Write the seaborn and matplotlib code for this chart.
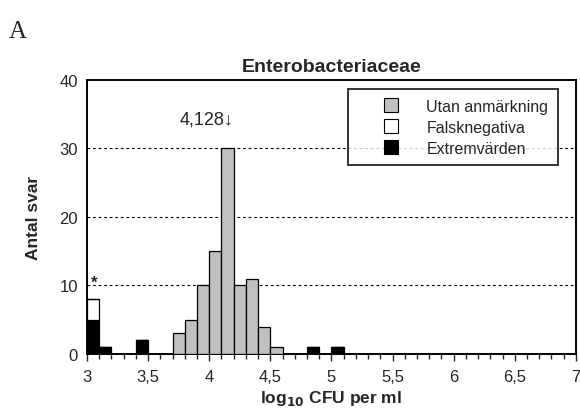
import numpy as np
import pandas as pd
import matplotlib
matplotlib.use("Agg")
import matplotlib.pyplot as plt
from matplotlib.lines import Line2D
from matplotlib.ticker import MultipleLocator
import seaborn as sns

# ---- data ----
title = "Enterobacteriaceae"
categories = ["Utan anmärkning", "Falsknegativa", "Extremvärden"]
colors = ["#c0c0c0", "#ffffff", "#000000"]

gray_bins = [3.7, 3.8, 3.9, 4.0, 4.1, 4.2, 4.3, 4.4, 4.5]
gray_counts = [3, 5, 10, 15, 30, 10, 11, 4, 1]
falseneg_bins = [3.0]
falseneg_counts = [3]
extreme_bins = [3.0, 3.1, 3.4, 4.8, 5.0]
extreme_counts = [5, 1, 2, 1, 1]

xticks = [3, 3.5, 4, 4.5, 5, 5.5, 6, 6.5, 7]
xticklabels = ["3", "3,5", "4", "4,5", "5", "5,5", "6", "6,5", "7"]
yticks = [0, 10, 20, 30, 40]
median_label = "4,128\u2193"

sns.set_style("white")
plt.rcParams['font.family'] = ['Liberation Sans', 'DejaVu Sans']

rows = []
for b, c in zip(gray_bins, gray_counts):
    rows.append((b + 0.05, float(c), categories[0]))
for b, c in zip(falseneg_bins, falseneg_counts):
    rows.append((b + 0.05, float(c), categories[1]))
for b, c in zip(extreme_bins, extreme_counts):
    rows.append((b + 0.05, float(c), categories[2]))
df = pd.DataFrame(rows, columns=["x", "n", "cat"])

fig = plt.figure(figsize=(5.8, 4.14), dpi=100)
ax = fig.add_axes([0.15, 0.1425, 0.843, 0.6626])

sns.histplot(data=df, x="x", weights="n", hue="cat",
             hue_order=categories, palette=colors,
             binwidth=0.1, binrange=(3, 7),
             multiple="stack", edgecolor="black", linewidth=0.9,
             alpha=1, legend=False, ax=ax, zorder=3)

ax.set_xlim(3, 7)
ax.set_ylim(0, 40)
ax.set_xticks(xticks)
ax.set_xticklabels(xticklabels, fontsize=12)
ax.xaxis.set_minor_locator(MultipleLocator(0.1))
ax.tick_params(axis="x", which="major", direction="out", length=5, width=1, bottom=True, pad=6)
ax.tick_params(axis="x", which="minor", direction="out", length=3.5, width=1, bottom=True)
ax.set_yticks(yticks)
ax.set_yticklabels([str(v) for v in yticks], fontsize=12)
ax.tick_params(axis="y", length=0, pad=6.5)

for v in [10, 20, 30]:
    ax.axhline(v, color="black", linestyle=(0, (2.5, 2.5)), linewidth=0.8, zorder=1)

for s in ax.spines.values():
    s.set_color("black")
    s.set_linewidth(1.4)

ax.set_xlabel("log$_{\\mathbf{10}}$ CFU per ml", fontsize=12.5, fontweight="bold", labelpad=3)
ax.set_ylabel("Antal svar", fontsize=12.5, fontweight="bold", labelpad=13)
ax.set_title(title, fontsize=14, fontweight="bold", pad=6)

ax.text(4.2, 34.3, median_label, ha="right", va="center", fontsize=13)
ax.text(3.06, 9.8, "*", ha="center", va="baseline", fontsize=12, fontweight="bold")

handles = [Line2D([], [], linestyle="none", marker="s", markersize=10.5,
                  markerfacecolor=c, markeredgecolor="black", markeredgewidth=0.8)
           for c in colors]
leg = ax.legend(handles, categories, loc="upper right", bbox_to_anchor=(0.963, 0.966),
                frameon=True, fancybox=False, edgecolor="black", fontsize=11.5,
                handlelength=4.2, handletextpad=0.1,
                borderpad=0.6, labelspacing=0.38, borderaxespad=0)
leg.get_frame().set_linewidth(1.4)
leg.set_zorder(5)

fig.text(0.015, 0.908, "A", fontsize=18, family=["Liberation Serif", "DejaVu Serif"])

fig.savefig("out.png", dpi=100)
